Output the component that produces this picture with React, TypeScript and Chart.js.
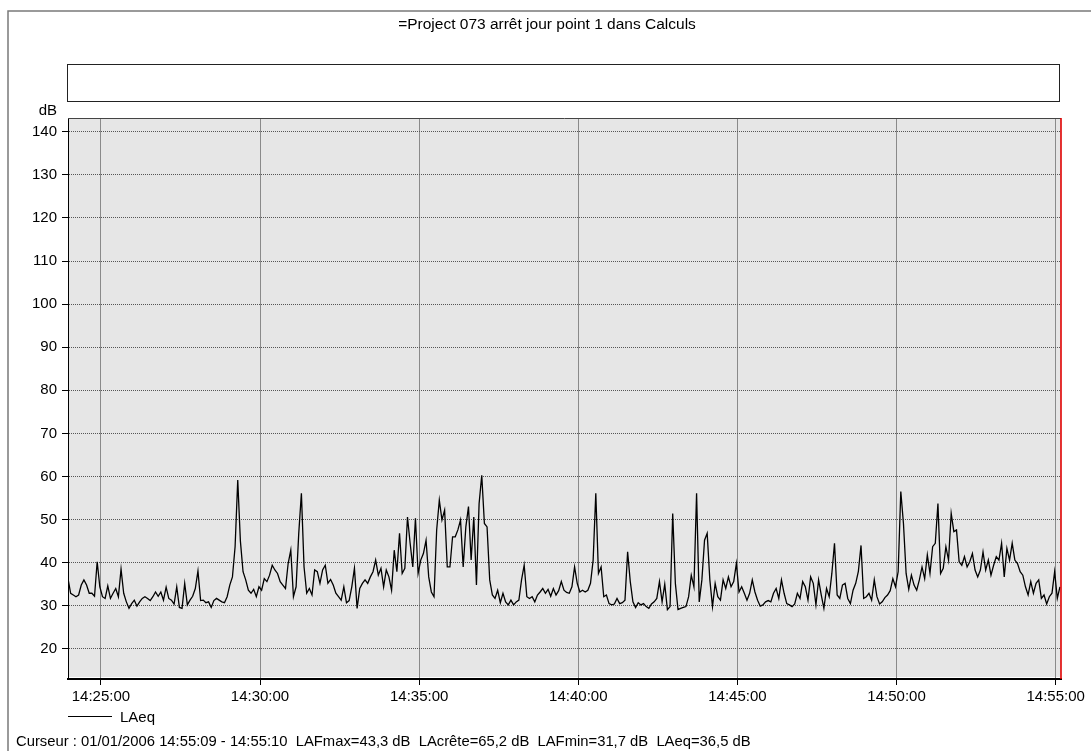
import React, { useEffect, useRef } from "react";
import { Chart, registerables } from "chart.js";

Chart.register(...registerables);

// ---------- texts ----------
const titleText = "=Project 073 arrêt jour point 1 dans Calculs";
const yUnit = "dB";
const seriesName = "LAeq";
const footerText =
  "Curseur : 01/01/2006 14:55:09 - 14:55:10  LAFmax=43,3 dB  LAcrête=65,2 dB  LAFmin=31,7 dB  LAeq=36,5 dB";

// ---------- axes ----------
const xStart = "14:23:58";
const xEnd = "14:55:10";
const cursorTime = "14:55:10";
const xTickLabels = ["14:25:00", "14:30:00", "14:35:00", "14:40:00", "14:45:00", "14:50:00", "14:55:00"];
const yTicks = [20, 30, 40, 50, 60, 70, 80, 90, 100, 110, 120, 130, 140];
const yMin = 13;
const yMax = 143.2;

// ---------- data: LAeq, one reading every 5 s from 14:23:58 ----------
const sampleStart = "14:23:58";
const sampleStepSeconds = 5;

const laeqPart1 = [
  36.3, 32.9, 32.5, 32.1, 32.5, 34.8, 36.0, 34.8, 32.9, 32.9,
  32.2, 40.2, 34.4, 32.1, 31.7, 34.6, 31.7, 32.9, 34.0, 32.1,
  38.5, 32.9, 30.9, 29.4, 30.5, 31.3, 29.9, 30.9, 31.7, 32.1,
  31.7, 31.2, 32.1, 33.2, 32.2, 33.2, 31.3, 34.3, 31.7, 31.3,
  30.4, 34.4, 29.6, 29.4, 35.2, 30.2, 31.3, 32.2, 34.0, 38.1,
  31.2, 31.3, 30.7, 30.9, 29.6, 31.2, 31.7, 31.3, 30.9, 30.7,
  32.1, 34.8, 36.7, 43.7, 59.2, 45.0, 37.9, 36.0, 33.6, 32.9,
  33.8, 32.1, 34.4, 33.6, 36.3, 35.6, 37.1, 39.4, 38.3, 37.5,
  35.6, 34.8, 34.0, 39.8, 42.9, 32.1, 34.4, 46.8, 56.1, 39.0,
  32.9, 34.0, 32.5, 38.3,
];

const laeqPart2 = [
  37.9, 35.2, 38.3, 39.4, 35.2, 36.1, 34.8, 32.9, 32.1, 31.3,
  34.4, 30.7, 31.2, 34.4, 38.7, 29.4, 34.0, 35.2, 36.0, 35.2,
  36.7, 37.9, 40.6, 37.1, 38.7, 34.4, 38.3, 36.7, 33.6, 42.9,
  37.9, 46.8, 37.5, 38.7, 50.6, 44.5, 39.0, 50.3, 37.5, 40.6,
  42.1, 45.2, 36.7, 33.2, 32.1, 47.6, 54.5, 49.9, 52.2, 39.0,
  39.0, 46.0, 46.0, 47.6, 49.9, 39.0, 48.3, 53.0, 40.6, 50.6,
  34.8, 53.7, 60.3, 49.1, 48.3, 36.0, 32.5, 31.7, 33.6, 30.7,
  32.9, 30.9, 30.2, 31.3, 30.2, 30.9, 31.3, 36.0, 39.4, 32.1,
  31.7, 32.1, 30.9, 32.5, 33.2, 34.0, 32.9, 33.8, 32.2, 34.0,
  32.5, 33.5, 35.6, 33.6,
];

const laeqPart3 = [
  33.1, 32.9, 34.4, 39.0, 35.2, 33.2, 33.6, 33.2, 33.6, 35.2,
  40.6, 56.1, 37.5, 39.0, 32.1, 32.5, 30.5, 30.2, 30.4, 31.7,
  30.5, 30.7, 31.3, 42.5, 35.6, 30.9, 29.6, 30.7, 30.2, 30.5,
  29.8, 29.4, 30.4, 30.9, 31.7, 35.6, 30.9, 35.0, 29.1, 29.8,
  51.4, 35.2, 29.1, 29.4, 29.6, 29.8, 32.1, 37.1, 34.4, 56.1,
  30.9, 36.0, 45.2, 46.8, 36.0, 29.8, 35.2, 32.1, 31.3, 36.0,
  34.0, 36.7, 34.4, 35.6, 39.8, 33.2, 34.4, 32.9, 31.3, 32.9,
  36.0, 33.2, 31.3, 29.9, 30.2, 30.9, 31.2, 30.9, 32.9, 34.0,
  31.7, 36.0, 32.9, 30.5, 30.2, 29.8, 30.4, 32.9, 31.7, 35.6,
  34.4, 31.3, 36.7,
];

const laeqPart4 = [
  35.2, 30.2, 36.0, 32.5, 29.4, 34.0, 32.1, 37.5, 44.5, 32.5,
  31.7, 34.8, 35.2, 31.7, 30.5, 33.6, 35.2, 38.0, 44.0, 31.7,
  32.1, 32.9, 31.3, 36.0, 32.1, 30.4, 30.9, 31.9, 32.5, 33.5,
  36.3, 34.4, 37.9, 56.5, 49.1, 37.5, 33.8, 37.1, 34.8, 33.6,
  36.0, 39.0, 36.3, 41.8, 37.5, 43.7, 44.5, 53.7, 37.5, 38.7,
  43.7, 40.6, 51.4, 47.2, 47.6, 40.2, 39.4, 41.4, 39.0, 40.2,
  42.1, 38.3, 36.7, 38.3, 42.5, 38.3, 40.6, 37.1, 39.4, 41.4,
  40.6, 44.5, 36.7, 43.3, 40.6, 44.5, 40.6, 39.8, 37.9, 37.1,
  34.4, 32.5, 35.6, 32.9, 35.2, 36.0, 31.7, 32.5, 30.4, 32.1,
  32.9, 37.9, 31.7, 34.4,
];

// ---------- helpers ----------
const toSec = (s: string) => {
  const [h, m, sec] = s.split(":").map(Number);
  return h * 3600 + m * 60 + sec;
};
const pad2 = (n: number) => String(n).padStart(2, "0");
const fmtTime = (v: number) => {
  const t = Math.round(v);
  return `${pad2(Math.floor(t / 3600))}:${pad2(Math.floor((t % 3600) / 60))}:${pad2(t % 60)}`;
};

const FONT = '"Liberation Sans", Arial, sans-serif';

const framePlugin = {
  id: "soundFrame",
  beforeDraw(chart: any) {
    const { ctx, chartArea: a } = chart;
    ctx.save();
    ctx.fillStyle = "#ffffff";
    ctx.fillRect(0, 0, chart.width, chart.height);
    ctx.fillStyle = "#e6e6e6";
    ctx.fillRect(a.left, a.top, a.right - a.left, a.bottom - a.top - 2);
    // outer frame
    ctx.strokeStyle = "#7a7a7a";
    ctx.lineWidth = 1.5;
    ctx.beginPath();
    ctx.moveTo(8, chart.height);
    ctx.lineTo(8, 11);
    ctx.lineTo(chart.width, 11);
    ctx.stroke();
    // title
    ctx.fillStyle = "#000";
    ctx.font = `15.5px ${FONT}`;
    ctx.textAlign = "center";
    ctx.textBaseline = "alphabetic";
    ctx.fillText(titleText, 547, 29);
    // empty header box
    ctx.strokeStyle = "#222";
    ctx.lineWidth = 1;
    ctx.strokeRect(67.5, 64.5, 992, 37);
    // unit
    ctx.font = `15px ${FONT}`;
    ctx.textAlign = "right";
    ctx.fillText(yUnit, 57, 115);
    ctx.restore();
  },
  afterDraw(chart: any) {
    const { ctx, chartArea: a } = chart;
    ctx.save();
    ctx.strokeStyle = "#444";
    ctx.lineWidth = 1;
    ctx.beginPath();
    ctx.moveTo(a.left, a.top + 0.5);
    ctx.lineTo(a.right, a.top + 0.5);
    ctx.stroke();
    // cursor
    const cx = chart.scales.x.getPixelForValue(toSec(cursorTime));
    ctx.strokeStyle = "#e00000";
    ctx.lineWidth = 1.6;
    ctx.beginPath();
    ctx.moveTo(cx, a.top);
    ctx.lineTo(cx, a.bottom);
    ctx.stroke();
    // legend
    ctx.strokeStyle = "#000";
    ctx.lineWidth = 1;
    ctx.beginPath();
    ctx.moveTo(68, 716.5);
    ctx.lineTo(112, 716.5);
    ctx.stroke();
    ctx.fillStyle = "#000";
    ctx.font = `15px ${FONT}`;
    ctx.textAlign = "left";
    ctx.textBaseline = "alphabetic";
    ctx.fillText(seriesName, 120, 722);
    // footer
    ctx.font = `14.8px ${FONT}`;
    ctx.fillText(footerText, 16, 746);
    ctx.restore();
  },
};

export default function App() {
  const canvasRef = useRef<HTMLCanvasElement | null>(null);

  useEffect(() => {
    if (!canvasRef.current) return;
    const laeq = [...laeqPart1, ...laeqPart2, ...laeqPart3, ...laeqPart4];
    const t0 = toSec(sampleStart);
    const points = laeq.map((v, i) => ({ x: t0 + i * sampleStepSeconds, y: v }));

    const chart = new Chart(canvasRef.current, {
      type: "line",
      data: {
        datasets: [
          {
            label: seriesName,
            data: points,
            borderColor: "#000000",
            borderWidth: 1.3,
            pointRadius: 0,
            fill: false,
            tension: 0,
          },
        ],
      },
      options: {
        responsive: false,
        animation: false,
        devicePixelRatio: 1,
        layout: { padding: { top: 118, left: 0, right: 30, bottom: 0 } },
        plugins: {
          legend: { display: false },
          title: { display: false },
          tooltip: { enabled: false },
        },
        scales: {
          x: {
            type: "linear",
            min: toSec(xStart),
            max: toSec(xEnd),
            afterBuildTicks: (s: any) => {
              s.ticks = xTickLabels.map((l) => ({ value: toSec(l) }));
            },
            afterFit: (s: any) => {
              s.height = 72;
            },
            ticks: {
              callback: (v: any) => fmtTime(Number(v)),
              color: "#000",
              font: { family: FONT, size: 15 },
              padding: 3,
              maxRotation: 0,
              autoSkip: false,
            },
            grid: {
              color: "#8a8a8a",
              lineWidth: 1,
              tickLength: 6,
              tickColor: "#000",
              tickWidth: 1,
              tickBorderDash: [],
            },
            border: { color: "#000", width: 2, dash: [] },
          },
          y: {
            type: "linear",
            min: yMin,
            max: yMax,
            afterBuildTicks: (s: any) => {
              s.ticks = yTicks.map((v) => ({ value: v }));
            },
            afterFit: (s: any) => {
              s.width = 68;
            },
            ticks: {
              color: "#000",
              font: { family: FONT, size: 15 },
              padding: 5,
            },
            grid: {
              color: "#555555",
              lineWidth: 1,
              tickLength: 6,
              tickColor: "#000",
              tickWidth: 1,
              tickBorderDash: [],
            },
            border: { color: "#000", width: 1, dash: [1, 1] },
          },
        },
      },
      plugins: [framePlugin],
    });
    return () => chart.destroy();
  }, []);

  return (
    <div style={{ position: "fixed", left: 0, top: 0, width: 1091, height: 751, background: "#fff" }}>
      <canvas ref={canvasRef} width={1091} height={751} style={{ display: "block" }} />
    </div>
  );
}
